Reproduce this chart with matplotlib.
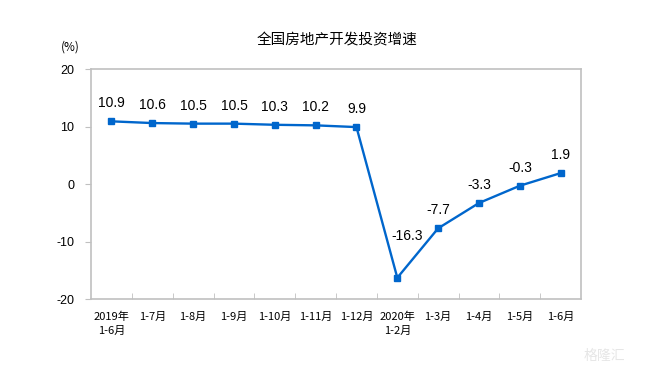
import matplotlib.pyplot as plt

plt.rcParams['font.family'] = ['Noto Sans CJK SC', 'DejaVu Sans']
plt.rcParams['axes.unicode_minus'] = False

# 数据
categories = ['2019年\n1-6月', '1-7月', '1-8月', '1-9月', '1-10月', '1-11月', '1-12月',
              '2020年\n1-2月', '1-3月', '1-4月', '1-5月', '1-6月']
values = [10.9, 10.6, 10.5, 10.5, 10.3, 10.2, 9.9, -16.3, -7.7, -3.3, -0.3, 1.9]

fig = plt.figure(figsize=(6.5, 3.71), dpi=100)
ax = fig.add_axes([0.14, 0.194, 0.754, 0.62])

x = list(range(len(values)))
ax.plot(x, values, color='#0066CC', lw=1.7, marker='s', markersize=5)

for i, v in enumerate(values):
    if v < -10:
        off = (7, 30)
    else:
        off = (0, 13)
    ax.annotate(f'{v}', (i, v), xytext=off, textcoords='offset points',
                ha='center', va='center', fontsize=10, family='Liberation Sans')

ax.set_xlim(-0.5, len(values) - 0.5)
ax.set_ylim(-20, 20)
ax.set_yticks([-20, -10, 0, 10, 20])
ax.set_xticks(x)
ax.set_xticklabels(categories, fontsize=8, linespacing=1.5, va='top')
ax.tick_params(axis='x', length=0, pad=9)
ax.set_xticks([i + 0.5 for i in range(len(values) - 1)], minor=True)
ax.tick_params(axis='x', which='minor', direction='in', length=4, color='#c0c0c0')
ax.tick_params(axis='y', length=4, color='#c0c0c0', labelsize=9, pad=8)
for lab in ax.get_yticklabels():
    lab.set_family('Liberation Sans')

for s in ax.spines.values():
    s.set_color('#c0c0c0')
    s.set_linewidth(1.2)

fig.text(0.518, 0.89, '全国房地产开发投资增速', ha='center', va='center', fontsize=10.5)
fig.text(0.108, 0.873, '(%)', ha='center', va='center', fontsize=8.5)
fig.text(0.93, 0.04, '格隆汇', ha='center', va='center', fontsize=10, color='#e6e6e6')

fig.savefig('out.png', dpi=100)
